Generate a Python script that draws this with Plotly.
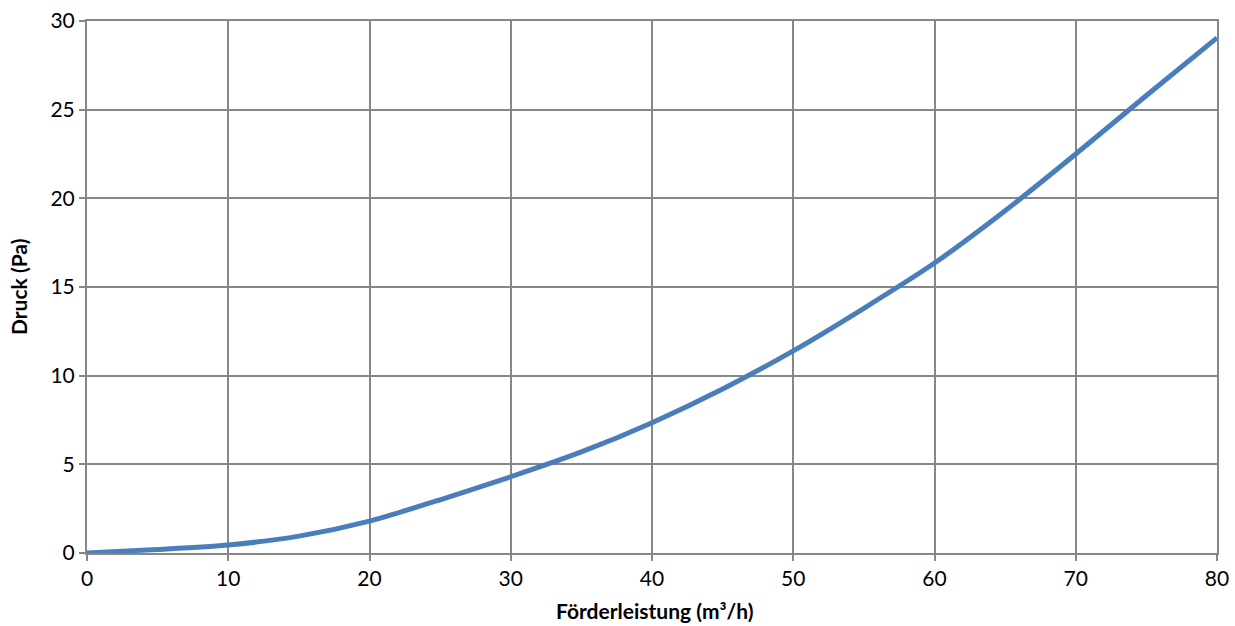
import plotly.graph_objects as go

foerderleistung = [0, 5, 10, 15, 20, 25, 30, 35, 40, 45, 50, 55, 60, 65, 70, 75, 80]
druck = [0.0, 0.2, 0.45, 0.95, 1.8, 3.0, 4.3, 5.7, 7.35, 9.25, 11.4, 13.8, 16.35, 19.3, 22.5, 25.8, 29.05]

x_ticks = [0, 10, 20, 30, 40, 50, 60, 70, 80]
y_ticks = [0, 5, 10, 15, 20, 25, 30]

x_title = "<b>Förderleistung (m³/h)</b>"
y_title = "<b>Druck (Pa)</b>"

GRID = "#878787"
FONT = "Century Gothic, Lato, sans-serif"

fig = go.Figure()
fig.add_trace(go.Scatter(
    x=foerderleistung, y=druck, mode="lines",
    line=dict(color="#4a7ebb", width=5, shape="spline", smoothing=0.7),
    showlegend=False, hoverinfo="x+y",
))

axis_common = dict(
    showgrid=True, gridcolor=GRID, gridwidth=2,
    showline=True, linecolor=GRID, linewidth=2, mirror=True,
    ticks="outside", ticklen=6, tickcolor=GRID, tickwidth=2,
    zeroline=False, automargin=False,
    tickfont=dict(family=FONT, size=21, color="#000000"),
)

fig.update_layout(
    width=1235, height=626,
    margin=dict(l=87, r=18, t=21, b=73),
    paper_bgcolor="white", plot_bgcolor="white",
    xaxis=dict(range=[0, 80], tickvals=x_ticks, ticktext=[str(v) for v in x_ticks], **axis_common),
    yaxis=dict(range=[0, 30], tickvals=y_ticks, ticktext=[str(v) for v in y_ticks], **axis_common),
    annotations=[
        dict(text=x_title, xref="paper", yref="paper", x=0.503, y=0, xanchor="center", yanchor="middle",
             yshift=-57, showarrow=False, font=dict(family=FONT, size=21, color="#000")),
        dict(text=y_title, xref="paper", yref="paper", x=0, y=0.5, xanchor="center", yanchor="middle",
             xshift=-69, textangle=-90, showarrow=False, font=dict(family=FONT, size=21, color="#000")),
    ],
)

fig.write_html("out.html", config={"displayModeBar": False},
               post_script="document.body.style.margin='0';document.body.style.overflow='hidden';")
